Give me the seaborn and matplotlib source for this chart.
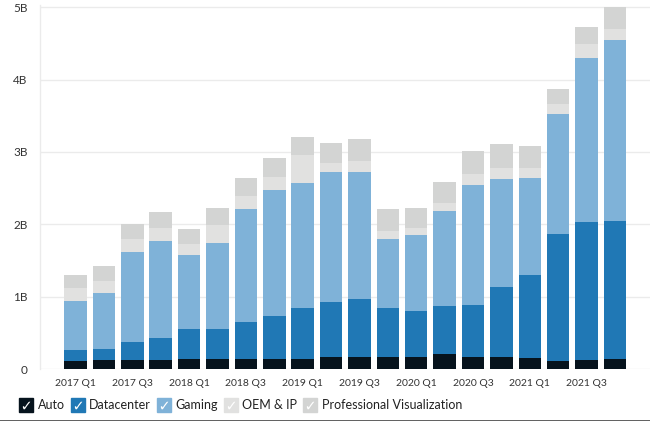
import matplotlib
matplotlib.use("Agg")
import matplotlib.pyplot as plt
from matplotlib.lines import Line2D
from matplotlib.legend_handler import HandlerTuple
import seaborn as sns
import pandas as pd
import numpy as np

quarters = [f"{y} Q{q}" for y in range(2017, 2022) for q in range(1, 5)]
auto = [0.113, 0.119, 0.127, 0.128, 0.140, 0.142, 0.144, 0.132, 0.145, 0.161,
        0.172, 0.163, 0.166, 0.209, 0.162, 0.163, 0.155, 0.111, 0.125, 0.145]
datacenter = [0.143, 0.151, 0.240, 0.296, 0.409, 0.416, 0.501, 0.606, 0.701, 0.760,
              0.792, 0.679, 0.634, 0.655, 0.726, 0.968, 1.141, 1.752, 1.900, 1.903]
gaming = [0.687, 0.781, 1.244, 1.348, 1.027, 1.186, 1.561, 1.739, 1.723, 1.805,
          1.764, 0.954, 1.055, 1.313, 1.659, 1.491, 1.339, 1.654, 2.271, 2.495]
oem_ip = [0.173, 0.163, 0.186, 0.176, 0.156, 0.251, 0.191, 0.180, 0.387, 0.116,
          0.148, 0.116, 0.099, 0.111, 0.143, 0.152, 0.138, 0.146, 0.194, 0.153]
pro_viz = [0.189, 0.214, 0.207, 0.225, 0.205, 0.235, 0.239, 0.254, 0.251, 0.281,
           0.305, 0.293, 0.266, 0.291, 0.324, 0.331, 0.307, 0.203, 0.236, 0.307]
series_names = ["Auto", "Datacenter", "Gaming", "OEM & IP", "Professional Visualization"]
colors = ["#06131d", "#2078b5", "#7fb2d8", "#e1e1e0", "#d3d4d3"]
y_ticks = [0, 1, 2, 3, 4, 5]
y_labels = ["0", "1B", "2B", "3B", "4B", "5B"]

sns.set_style("white")
plt.rcParams["font.family"] = ["Lato", "DejaVu Sans"]

fig = plt.figure(figsize=(6.5, 4.21), dpi=100)
ax = fig.add_axes([40/650, 1-369/421, 1-40/650, 364/421])

layers = np.array([auto, datacenter, gaming, oem_ip, pro_viz])
cum = np.cumsum(layers, axis=0)
for i in range(len(series_names) - 1, -1, -1):
    df = pd.DataFrame({"quarter": quarters, "value": cum[i]})
    sns.barplot(data=df, x="quarter", y="value", order=quarters, color=colors[i],
                saturation=1, width=0.79, ax=ax, zorder=3, linewidth=0)

ax.set_xlim(-1.25, 20.23)
ax.set_ylim(0, 5.03)
ax.set_yticks(y_ticks)
ax.set_yticklabels(y_labels)
ax.set_xticks(range(0, 20, 2))
ax.set_xticklabels(quarters[::2])
ax.set_xlabel("")
ax.set_ylabel("")
ax.grid(axis="y", color="#ebebeb", linewidth=1.0, zorder=0)
ax.grid(axis="x", visible=False)
for s in ["top", "right", "bottom"]:
    ax.spines[s].set_visible(False)
ax.spines["left"].set_color("#ebebeb")
ax.spines["left"].set_linewidth(1.0)
ax.tick_params(axis="y", length=4, color="#ebebeb", width=1.0, pad=5,
               labelsize=8.5, labelcolor="#333333")
ax.tick_params(axis="x", length=0, pad=7, labelsize=7.5, labelcolor="#333333")

handles = []
for c in colors:
    sq = Line2D([], [], marker="s", markersize=10.5, color=c, linestyle="")
    ck = Line2D([], [], marker="$\\checkmark$", markersize=5.5, color="white",
                markeredgewidth=0, linestyle="")
    handles.append((sq, ck))
leg = fig.legend(handles, series_names, handler_map={tuple: HandlerTuple(ndivide=1)},
                 loc="center left", bbox_to_anchor=(0.03, 1-405/421), ncol=5,
                 frameon=False, fontsize=9, handlelength=1.1, handletextpad=0.35,
                 columnspacing=0.5, borderaxespad=0, borderpad=0)
for t in leg.get_texts():
    t.set_color("#222222")

fig.add_artist(Line2D([0, 1], [0.5/421, 0.5/421], transform=fig.transFigure,
                      color="#444444", linewidth=1.2))

fig.savefig("out.png", dpi=100)
